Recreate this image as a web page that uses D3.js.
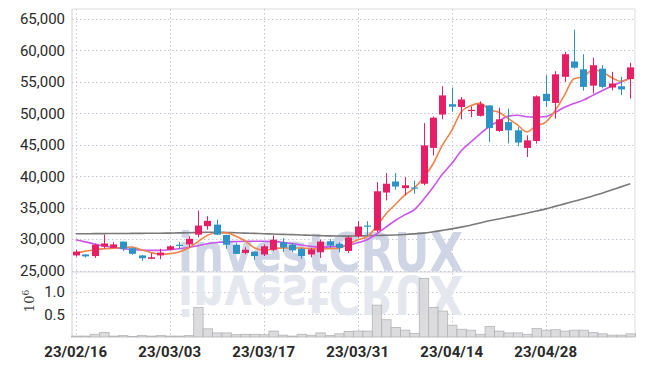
<!DOCTYPE html>
<html>
<head>
<meta charset="utf-8">
<script src="https://cdn.jsdelivr.net/npm/d3@7"></script>
<style>
  body { margin: 0; background: #fff; }
  text { font-family: "Liberation Sans Narrow", "Roboto", sans-serif; }
</style>
</head>
<body>
<svg width="645" height="366"></svg>
<script>
const svg = d3.select('svg');

const dates = ["23/02/16","23/02/17","23/02/20","23/02/21","23/02/22","23/02/23","23/02/24","23/02/27","23/02/28",
  "23/03/02","23/03/03","23/03/06","23/03/07","23/03/08","23/03/09","23/03/10","23/03/13","23/03/14","23/03/15","23/03/16","23/03/17",
  "23/03/20","23/03/21","23/03/22","23/03/23","23/03/24","23/03/27","23/03/28","23/03/29","23/03/30","23/03/31",
  "23/04/03","23/04/04","23/04/05","23/04/06","23/04/07","23/04/10","23/04/11","23/04/12","23/04/13","23/04/14",
  "23/04/17","23/04/18","23/04/19","23/04/20","23/04/21","23/04/24","23/04/25","23/04/26","23/04/27","23/04/28",
  "23/05/02","23/05/03","23/05/04","23/05/08","23/05/09","23/05/10","23/05/11","23/05/12","23/05/15"];

const open  = [27400,27550,27300,28800,28600,29600,28550,27400,26850,27400,28300,29100,29150,30700,32050,32300,30650,29100,27800,28000,
  27550,28300,29500,29100,28450,27550,27900,29650,29250,28100,30450,32150,31350,37400,39150,38100,38200,38800,44500,49800,
  51450,51000,50450,49600,51250,47200,48600,47300,44500,45600,53100,51650,55800,58250,57000,54400,57100,54100,54300,55450];
const high  = [28300,27600,29250,30700,29500,29600,28700,27450,27750,28450,29000,29500,30450,34550,33650,33100,30700,29400,28700,28050,
  29150,30600,30150,29400,28600,28600,29900,30000,29500,30450,32850,32850,39050,40500,40500,39850,39300,48450,49500,54300,
  54100,52600,51100,51900,51300,50900,50750,47800,46500,52850,56050,56700,59750,63300,59400,58850,57650,56600,55800,58050];
const low   = [27200,27050,27000,28500,28500,28100,27500,26550,26800,26800,28200,28400,28700,30300,31500,30650,28450,27600,27600,26700,
  27300,28100,27950,27900,26850,27100,27000,28600,27900,27800,30200,30500,31100,36150,37850,36950,37200,38550,43300,49050,
  50250,49050,49400,49500,45450,47050,45200,44750,43050,45200,51000,49150,55000,57100,53600,53150,53950,53650,52900,52350];
const close = [28000,27250,29100,29300,29150,28450,27650,26950,27100,27850,28850,29000,30050,32150,32900,30700,29100,27650,28300,27300,
  28850,29900,28650,28200,27300,28350,29600,28950,28600,30250,32000,32050,37600,38800,38350,38550,38150,44900,49300,52850,
  51050,52200,50550,51450,47650,49050,47300,45350,45700,52700,51950,56200,59400,57250,54200,57650,54200,54750,53800,57300];

// volume in millions
const volume = [0.02,0.02,0.06,0.10,0.02,0.03,0.01,0.03,0.02,0.03,0.02,0.02,0.03,0.65,0.18,0.09,0.09,0.05,0.06,0.06,
  0.05,0.13,0.04,0.02,0.06,0.04,0.09,0.03,0.07,0.12,0.13,0.13,0.70,0.38,0.21,0.15,0.08,1.29,0.65,0.57,
  0.26,0.17,0.15,0.06,0.23,0.13,0.09,0.09,0.06,0.19,0.15,0.16,0.13,0.15,0.15,0.10,0.07,0.04,0.04,0.07];

const ma5 = [27800,28050,28300,28450,28560,28650,28730,28300,27860,27600,27680,27950,28570,29580,30590,30960,30980,30500,29730,28610,
  28240,28400,28600,28580,28580,28480,28420,28480,28560,29150,29880,30370,32000,34000,35500,37000,38100,39750,41900,44900,
  47250,50200,51200,51620,50580,50180,49200,48160,47050,48020,48600,50400,52900,55500,55800,56940,56600,55700,55100,55600];
const ma20 = [29900,29550,29200,28900,28650,28450,28350,28250,28200,28200,28300,28450,28650,28950,29250,29450,29550,29600,29650,29650,
  29650,29600,29500,29300,29050,28850,28700,28750,28850,29050,29400,29900,30800,31900,32950,33850,34650,36300,38200,40300,
  42000,44000,45400,46700,47900,48750,49550,49700,49450,49400,49500,50150,50950,51550,52100,52850,53600,54300,54950,55650];
const ma120 = [30850,30850,30860,30870,30880,30890,30900,30910,30920,30930,30950,30980,31000,31050,31080,31080,31050,31000,30950,30900,
  30850,30800,30750,30700,30650,30600,30550,30500,30480,30470,30500,30520,30560,30600,30650,30720,30820,30950,31150,31380,
  31620,31900,32200,32550,32900,33200,33500,33800,34100,34450,34800,35200,35600,36000,36400,36850,37300,37800,38300,38800];

const priceTicks = [25000,30000,35000,40000,45000,50000,55000,60000,65000];
const volTicks = [0.5, 1.0];
const labelDates = ["23/02/16","23/03/03","23/03/17","23/03/31","23/04/14","23/04/28"];

const data = dates.map((d, i) => ({
  date: d, open: open[i], high: high[i], low: low[i], close: close[i], vol: volume[i]
}));

const plotLeft = 72, plotRight = 635, plotTop = 9, plotBottom = 337;
const upColor = "#e61e66", downColor = "#2d92c6";

const x = d3.scaleBand().domain(dates).range([71, 635]).padding(0);
const cx = d => x(d) + x.bandwidth() / 2;
const y = d3.scaleLinear().domain([25000, 65000]).range([270.5, 19]);
const yv = d3.scaleLinear().domain([0, 1]).range([plotBottom, 291.5]);

// frame
svg.append("line").attr("x1", plotLeft).attr("x2", plotRight).attr("y1", plotTop).attr("y2", plotTop)
  .attr("stroke", "#dcdcdc");
svg.append("line").attr("x1", plotRight).attr("x2", plotRight).attr("y1", plotTop).attr("y2", plotBottom)
  .attr("stroke", "#dcdcdc");
svg.append("line").attr("x1", plotLeft).attr("x2", plotLeft).attr("y1", plotTop).attr("y2", plotBottom)
  .attr("stroke", "#d0d0d8");
svg.append("line").attr("x1", plotLeft).attr("x2", plotRight).attr("y1", 272).attr("y2", 272)
  .attr("stroke", "#d8d8e0");

// grid
const grid = svg.append("g").attr("stroke", "#c3c6d8").attr("stroke-dasharray", "1.5,2.5");
grid.selectAll(".hg").data(priceTicks).enter().append("line")
  .attr("x1", plotLeft).attr("x2", plotRight)
  .attr("y1", d => Math.round(y(d)) + 0.5).attr("y2", d => Math.round(y(d)) + 0.5);
grid.selectAll(".vg").data(volTicks).enter().append("line")
  .attr("x1", plotLeft).attr("x2", plotRight)
  .attr("y1", d => Math.round(yv(d)) + 0.5).attr("y2", d => Math.round(yv(d)) + 0.5);
grid.selectAll(".xg").data(labelDates).enter().append("line")
  .attr("x1", d => Math.round(cx(d)) + 0.5).attr("x2", d => Math.round(cx(d)) + 0.5)
  .attr("y1", plotTop).attr("y2", plotBottom);

// watermark with reflection
const wm = svg.append("g");
wm.append("text")
  .attr("x", 178).attr("y", 271)
  .attr("textLength", 285).attr("lengthAdjust", "spacingAndGlyphs")
  .style("font-family", "DejaVu Sans, sans-serif").style("font-weight", "bold")
  .style("font-size", "54px").style("fill", "#c8cee2").style("opacity", 0.85)
  .text("investCRUX");
wm.append("text")
  .attr("x", 178).attr("y", 271)
  .attr("transform", "translate(0,547) scale(1,-1)")
  .attr("textLength", 285).attr("lengthAdjust", "spacingAndGlyphs")
  .style("font-family", "DejaVu Sans, sans-serif").style("font-weight", "bold")
  .style("font-size", "54px").style("fill", "#e5e7ef")
  .text("investCRUX");

// volume bars
svg.append("g").selectAll(".vol").data(data).enter().append("rect")
  .attr("x", d => x(d.date) + 0.5)
  .attr("width", x.bandwidth())
  .attr("y", d => yv(d.vol))
  .attr("height", d => yv(0) - yv(d.vol))
  .style("fill", "#d6d6d8").style("fill-opacity", 0.85)
  .style("stroke", "#b4b4b8").style("stroke-width", 0.8);

// moving averages
const line = arr => d3.line().x((d, i) => cx(dates[i])).y(d => y(d)).curve(d3.curveMonotoneX)(arr);
svg.append("path").attr("d", line(ma120)).attr("fill", "none").attr("stroke", "#7a7a7a").attr("stroke-width", 1.6);
svg.append("path").attr("d", line(ma20)).attr("fill", "none").attr("stroke", "#c955ea").attr("stroke-width", 1.6);
svg.append("path").attr("d", line(ma5)).attr("fill", "none").attr("stroke", "#ee8448").attr("stroke-width", 1.6);

// candles
const candles = svg.append("g").selectAll(".candle").data(data).enter().append("g");
candles.append("line")
  .attr("x1", d => Math.round(cx(d.date)) + 0.5).attr("x2", d => Math.round(cx(d.date)) + 0.5)
  .attr("y1", d => y(d.high)).attr("y2", d => y(d.low))
  .attr("stroke", d => d.close >= d.open ? upColor : downColor);
candles.append("rect")
  .attr("x", d => Math.round(cx(d.date)) - 3)
  .attr("width", 7)
  .attr("y", d => y(Math.max(d.open, d.close)))
  .attr("height", d => Math.max(1.2, Math.abs(y(d.open) - y(d.close))))
  .style("fill", d => d.close >= d.open ? upColor : downColor);

// axes
const yAxis = svg.append("g")
  .attr("transform", "translate(" + plotLeft + ",0)")
  .call(d3.axisLeft(y).tickValues(priceTicks).tickFormat(d3.format(",")).tickSize(0).tickPadding(7));
yAxis.select(".domain").remove();
yAxis.selectAll("text").style("font-size", "15px").style("fill", "#2a2a2a");

const vAxis = svg.append("g")
  .attr("transform", "translate(" + plotLeft + ",0)")
  .call(d3.axisLeft(yv).tickValues(volTicks).tickFormat(d3.format(".1f")).tickSize(0).tickPadding(7));
vAxis.select(".domain").remove();
vAxis.selectAll("text").style("font-size", "15px").style("fill", "#2a2a2a");

const xAxis = svg.append("g")
  .attr("transform", "translate(0," + plotBottom + ")")
  .call(d3.axisBottom(x).tickValues(labelDates).tickSize(0).tickPadding(9));
xAxis.select(".domain").remove();
xAxis.selectAll("text").style("font-size", "15px").style("font-weight", "bold").style("fill", "#2a2a2a");

// unit label
const unit = svg.append("text")
  .attr("transform", "translate(34,301) rotate(-90)")
  .attr("text-anchor", "middle")
  .style("font-family", "DejaVu Serif, serif").style("font-size", "13px").style("fill", "#444");
unit.append("tspan").text("10");
unit.append("tspan").attr("dy", -5).style("font-size", "9px").text("6");
</script>
</body>
</html>
